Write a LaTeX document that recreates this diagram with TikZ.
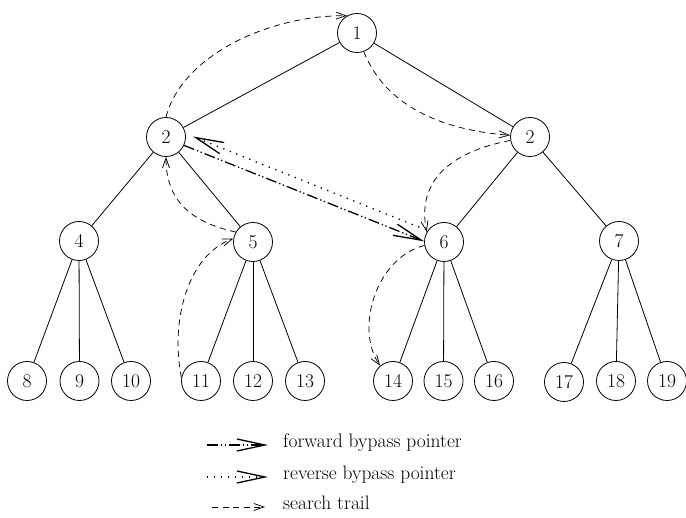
\documentclass[tikz,border=0pt]{standalone}
\usetikzlibrary{arrows.meta}
\begin{document}
\begin{tikzpicture}[x=1pt,y=-1pt,
  vertex/.style={circle,draw,line width=0.8pt,minimum size=39pt,inner sep=0pt,
    font=\fontsize{19.5}{20}\selectfont},
  treeedge/.style={line width=0.8pt},
  trail/.style={line width=0.75pt,dash pattern=on 6pt off 4.5pt,
    -{Straight Barb[length=10pt,width=7pt,line width=0.75pt]}},
  fwdptr/.style={line width=1.3pt,
    dash pattern=on 11pt off 3pt on 1.3pt off 2.5pt on 1.3pt off 3pt,
    -{Straight Barb[length=28pt,width=12pt,line width=1.3pt]}},
  revptr/.style={line width=1.3pt,dash pattern=on 1.3pt off 5.7pt,
    -{Straight Barb[length=28pt,width=12pt,line width=1.3pt]}},
  legendtext/.style={anchor=mid west,inner sep=0pt,font=\fontsize{19.5}{22}\selectfont}]
\useasboundingbox (0,0) rectangle (686,518);

% tree nodes
\node[vertex] (n1)  at (357,33)  {1};
\node[vertex] (n2a) at (166,137) {2};
\node[vertex] (n2b) at (530,137) {2};
\node[vertex] (n4)  at (79,241)  {4};
\node[vertex] (n5)  at (253,242) {5};
\node[vertex] (n6)  at (444,242) {6};
\node[vertex] (n7)  at (619,241) {7};
\node[vertex] (n8)  at (27,381)  {8};
\node[vertex] (n9)  at (79.5,381) {9};
\node[vertex] (n10) at (131,381) {10};
\node[vertex] (n11) at (201,381) {11};
\node[vertex] (n12) at (253,381) {12};
\node[vertex] (n13) at (305,381) {13};
\node[vertex] (n14) at (393,381) {14};
\node[vertex] (n15) at (443.5,381) {15};
\node[vertex] (n16) at (494,381) {16};
\node[vertex] (n17) at (564,382) {17};
\node[vertex] (n18) at (616,381) {18};
\node[vertex] (n19) at (667,381) {19};

% tree edges
\foreach \a/\b in {n1/n2a,n1/n2b,n2a/n4,n2a/n5,n2b/n6,n2b/n7,
                   n4/n8,n4/n9,n4/n10,n5/n11,n5/n12,n5/n13,
                   n6/n14,n6/n15,n6/n16,n7/n17,n7/n18,n7/n19}
  \draw[treeedge] (\a) -- (\b);

% search trail
\draw[trail] (n11.170) .. controls (170,320) and (188,255) .. (n5.170);
\draw[trail] (n5.150) .. controls (190,222) and (166,200) .. (n2a.south);
\draw[trail] (n2a.north) .. controls (182,55) and (270,15) .. (n1.120);
\draw[trail] (n1.-70) .. controls (385,105) and (440,130) .. (n2b.175);
\draw[trail] (n2b.190) .. controls (460,150) and (415,175) .. (n6.150);
\draw[trail] (n6.190) .. controls (375,258) and (355,330) .. (n14.130);

% bypass pointers
\draw[fwdptr] (n2a.-25) -- (n6.178);
\draw[revptr,shorten <=9pt,shorten >=8pt] (n6.145) -- (n2a.10);

% legend
\node[legendtext] (lf) at (283,445) {forward bypass pointer};
\node[legendtext] (lr) at (283,477) {reverse bypass pointer};
\node[legendtext] (ls) at (283,507) {search trail};
\coordinate (lfa) at (207,445);
\coordinate (lfb) at (268,445);
\coordinate (lra) at (207,477);
\coordinate (lrb) at (268,477);
\coordinate (lsa) at (212,507);
\coordinate (lsb) at (265,507);
\draw[fwdptr] (lfa) -- (lfb);
\draw[revptr] (lra) -- (lrb);
\draw[trail] (lsa) -- (lsb);
\end{tikzpicture}
\end{document}
